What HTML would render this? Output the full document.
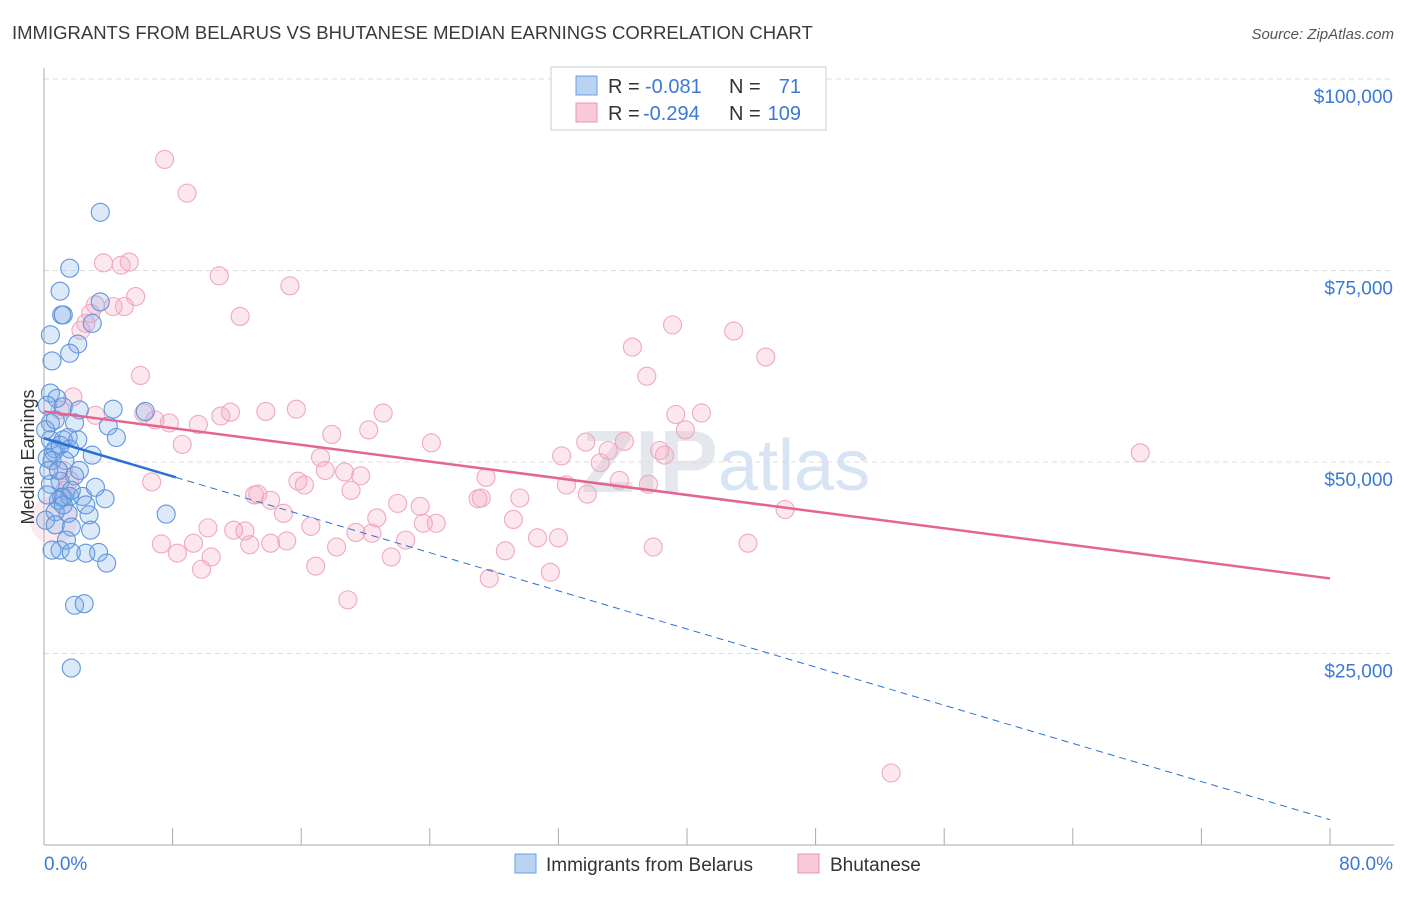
<!DOCTYPE html>
<html><head><meta charset="utf-8"><style>
body{margin:0;background:#fff;font-family:"Liberation Sans",sans-serif;}
svg text{font-family:"Liberation Sans",sans-serif;}
</style></head><body>
<svg id="chart" width="1406" height="892" viewBox="0 0 1406 892" xmlns="http://www.w3.org/2000/svg">
<text x="12" y="39" font-size="18.5" fill="#3a3a3a">IMMIGRANTS FROM BELARUS VS BHUTANESE MEDIAN EARNINGS CORRELATION CHART</text>
<text x="1394" y="39" font-size="15" fill="#555" font-style="italic" text-anchor="end">Source: ZipAtlas.com</text>
<text x="718" y="492" font-size="88" fill="#e4e8ee" text-anchor="end" font-family="Liberation Serif" font-weight="bold">ZIP</text>
<text x="718" y="490" font-size="72" fill="#d6e4f4">atlas</text>
<g id="grid"></g>
<g id="axes"></g>
<g id="points"></g>
<g id="trends"></g>
<text transform="translate(34,457) rotate(-90)" font-size="18" fill="#333" text-anchor="middle">Median Earnings</text>
<g>
<rect x="551" y="67" width="275" height="63" fill="#fff" stroke="#ccc"/>
<rect x="576" y="76" width="21" height="19" fill="#b9d3f3" stroke="#6a9fe0"/>
<rect x="576" y="103" width="21" height="19" fill="#f9c9d8" stroke="#eb94b2"/>
<text x="608" y="93" font-size="20" fill="#333">R =</text>
<text x="645" y="93" font-size="20" fill="#3b78d8">-0.081</text>
<text x="729" y="93" font-size="20" fill="#333">N =</text>
<text x="801" y="93" font-size="20" fill="#3b78d8" text-anchor="end">71</text>
<text x="608" y="120" font-size="20" fill="#333">R =</text>
<text x="643" y="120" font-size="20" fill="#3b78d8">-0.294</text>
<text x="729" y="120" font-size="20" fill="#333">N =</text>
<text x="801" y="120" font-size="20" fill="#3b78d8" text-anchor="end">109</text>
</g>
<g>
<rect x="515" y="854" width="21" height="19" fill="#b9d3f3" stroke="#6a9fe0"/>
<text x="546" y="871" font-size="19" fill="#333">Immigrants from Belarus</text>
<rect x="798" y="854" width="21" height="19" fill="#f9c9d8" stroke="#eb94b2"/>
<text x="830" y="871" font-size="19" fill="#333">Bhutanese</text>
</g>
</svg>
<script>
const xTicks=[0,8,16,24,32,40,48,56,64,72,80];
const yTicks=[25000,50000,75000,100000];
const yTickLabels=["$25,000","$50,000","$75,000","$100,000"];
const xEndLabels=["0.0%","80.0%"];
const belarusX=[3.5,1.6,1.0,1.1,1.2,3.5,3.0,0.4,2.1,1.6,0.5,0.4,0.8,0.2,1.2,4.3,2.2,6.3,1.9,0.4,4.0,4.5,1.5,1.2,0.7,0.6,1.6,3.0,0.2,0.5,1.9,1.0,0.4,1.2,1.1,1.6,2.4,3.8,3.2,1.5,2.8,0.7,1.7,2.9,7.6,1.0,1.7,3.4,2.6,3.9,1.9,2.5,1.7,0.3,0.9,0.1,0.4,1.0,0.7,2.2,1.3,0.1,0.7,2.1,1.2,0.2,0.9,1.7,2.6,0.5,1.4];
const belarusY=[82.6,75.3,72.3,69.2,69.2,70.9,68.1,66.6,65.4,64.2,63.2,59.0,58.3,57.4,57.2,56.9,56.8,56.6,55.1,55.1,54.7,53.2,53.2,52.9,51.7,51.3,51.7,50.9,50.5,50.2,48.2,47.5,47.1,45.4,45.4,45.5,45.5,45.2,46.7,43.3,43.1,43.5,41.5,41.1,43.2,38.5,38.2,38.2,38.1,36.8,31.3,31.5,23.1,48.9,45.0,42.4,52.9,52.2,41.8,48.9,50.2,54.2,55.5,52.9,44.4,45.7,48.9,46.3,44.4,38.5,39.8];
const bhutX=[7.5,8.9,3.7,5.3,4.8,10.9,15.3,5.7,3.2,5.0,4.3,2.9,12.2,2.6,2.3,39.1,42.9,36.6,44.9,37.5,6.0,1.8,1.0,6.2,11.6,11.0,13.8,15.7,21.1,39.3,40.9,3.2,6.9,7.8,9.6,20.2,17.9,39.9,36.1,33.7,8.6,24.1,35.1,32.2,34.6,38.3,38.6,68.2,17.2,1.2,17.5,18.7,19.7,27.5,6.7,15.8,16.2,19.1,37.6,32.5,35.8,33.8,13.1,13.3,14.1,27.0,27.2,29.6,22.0,23.4,14.9,20.7,46.1,29.2,23.6,24.4,16.6,10.2,11.8,12.5,19.4,20.4,30.7,32.0,14.1,15.1,22.5,9.3,7.3,12.8,18.2,8.3,43.8,37.9,10.4,21.6,28.7,16.9,9.8,27.7,31.5,18.9,52.7,1.6,1.3];
const bhutY=[89.5,85.1,76.0,76.1,75.7,74.3,73.0,71.6,70.5,70.3,70.3,69.4,69.0,68.1,67.2,67.9,67.1,65.0,63.7,61.2,61.3,58.5,56.8,56.4,56.5,56.0,56.6,56.9,56.4,56.2,56.4,56.1,55.5,55.1,54.9,54.2,53.6,54.2,52.7,52.6,52.3,52.5,51.5,50.8,49.9,51.5,50.9,51.2,50.6,48.9,48.9,48.7,48.2,48.0,47.4,47.5,47.0,46.3,47.1,47.0,47.6,45.8,45.7,45.8,45.0,45.2,45.3,45.3,44.6,44.2,43.3,42.7,43.8,42.5,42.0,42.0,41.6,41.4,41.1,41.0,40.8,40.7,40.1,40.1,39.4,39.7,39.8,39.4,39.3,39.2,38.9,38.1,39.4,38.9,37.6,37.6,38.4,36.4,36.0,34.8,35.6,32.0,9.4,47.6,46.3];
const belarusTrend=[53.1,-0.6225];
const bhutTrend=[56.6,-0.2725];
const NS="http://www.w3.org/2000/svg";
function sx(v){return 44+v/80*1286;}
function sy(v){return 845-v/25000*191.5;}
function syk(v){return sy(v*1000);}
function mk(tag,attrs,parent){const e=document.createElementNS(NS,tag);for(const k in attrs)e.setAttribute(k,attrs[k]);parent.appendChild(e);return e;}
const grid=document.getElementById('grid'),axes=document.getElementById('axes'),pts=document.getElementById('points'),tr=document.getElementById('trends');
yTicks.forEach((t,i)=>{
 const l=mk('line',{x1:44,x2:1394,y1:sy(t),y2:sy(t),stroke:'#ddd','stroke-dasharray':'5,4'},grid);
 
 
 const tx=mk('text',{x:1393,y:sy(t)+24,'font-size':19,fill:'#3b78d8','text-anchor':'end'},axes);
 tx.textContent=yTickLabels[i];
 
 
});
const ya=mk('line',{x1:44,x2:44,y1:68,y2:845,stroke:'#aaa'},axes);


const xa=mk('line',{x1:44,x2:1394,y1:845,y2:845,stroke:'#aaa'},axes);


xTicks.forEach(t=>{
 const l=mk('line',{x1:sx(t),x2:sx(t),y1:828,y2:845,stroke:'#aaa'},axes);
 
 
});
const xl0=mk('text',{x:44,y:870,'font-size':19,fill:'#3b78d8'},axes);xl0.textContent=xEndLabels[0];


const xl1=mk('text',{x:1393,y:870,'font-size':19,fill:'#3b78d8','text-anchor':'end'},axes);xl1.textContent=xEndLabels[1];


const big=mk('circle',{cx:sx(0.6),cy:syk(42.4),r:24,fill:'rgba(245,170,195,0.25)',stroke:'none'},pts);


bhutX.forEach((x,i)=>{
 const c=mk('circle',{cx:sx(x),cy:syk(bhutY[i]),r:9,fill:'rgba(245,170,195,0.28)',stroke:'#efa8c0','stroke-width':1.1},pts);
 
 
});
belarusX.forEach((x,i)=>{
 const c=mk('circle',{cx:sx(x),cy:syk(belarusY[i]),r:9,fill:'rgba(120,170,230,0.26)',stroke:'#5f95dc','stroke-width':1.1},pts);
 
 
});
function ty(t,x){return t[0]+t[1]*x;}
const b1=mk('line',{x1:sx(0),y1:syk(ty(belarusTrend,0)),x2:sx(8.2),y2:syk(ty(belarusTrend,8.2)),stroke:'#2b6fd6','stroke-width':2.5},tr);


const b2=mk('line',{x1:sx(8.2),y1:syk(ty(belarusTrend,8.2)),x2:sx(80),y2:syk(ty(belarusTrend,80)),stroke:'#2b6fd6','stroke-width':1,'stroke-dasharray':'7,5'},tr);


const p1=mk('line',{x1:sx(0),y1:syk(ty(bhutTrend,0)),x2:sx(80),y2:syk(ty(bhutTrend,80)),stroke:'#e4668f','stroke-width':2.5},tr);


</script>
</body></html>
